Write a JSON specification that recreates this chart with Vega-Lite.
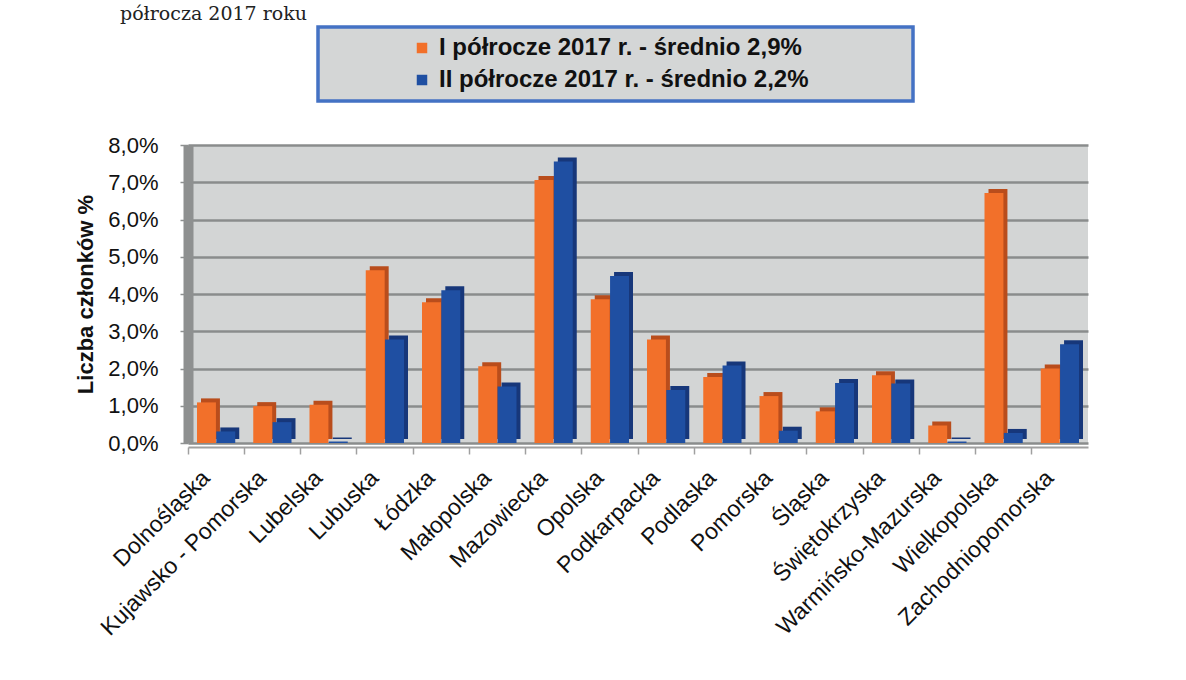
{
  "$schema": "https://vega.github.io/schema/vega-lite/v6.json",
  "width": 900,
  "height": 298,
  "autosize": {"type": "none"},
  "padding": {"left": 188, "top": 145, "right": 98, "bottom": 237},
  "background": "white",
  "title": {
    "text": "półrocza 2017 roku",
    "anchor": "start",
    "frame": "group",
    "font": "DejaVu Serif",
    "fontSize": 19,
    "fontWeight": "normal",
    "color": "#222222",
    "baseline": "bottom",
    "offset": -18,
    "dx": -68
  },
  "config": {
    "font": "Liberation Sans",
    "view": {"fill": "#d3d5d5", "stroke": null},
    "legend": {"strokeWidth": 3.5}
  },
  "data": {
    "values": [
      {"region": "Dolnośląska", "series": "I półrocze 2017 r. - średnio 2,9%", "value": 1.09},
      {"region": "Dolnośląska", "series": "II półrocze 2017 r. - średnio 2,2%", "value": 0.31},
      {"region": "Kujawsko - Pomorska", "series": "I półrocze 2017 r. - średnio 2,9%", "value": 0.99},
      {"region": "Kujawsko - Pomorska", "series": "II półrocze 2017 r. - średnio 2,2%", "value": 0.56},
      {"region": "Lubelska", "series": "I półrocze 2017 r. - średnio 2,9%", "value": 1.03},
      {"region": "Lubelska", "series": "II półrocze 2017 r. - średnio 2,2%", "value": 0.04},
      {"region": "Lubuska", "series": "I półrocze 2017 r. - średnio 2,9%", "value": 4.64},
      {"region": "Lubuska", "series": "II półrocze 2017 r. - średnio 2,2%", "value": 2.78},
      {"region": "Łódzka", "series": "I półrocze 2017 r. - średnio 2,9%", "value": 3.78},
      {"region": "Łódzka", "series": "II półrocze 2017 r. - średnio 2,2%", "value": 4.1},
      {"region": "Małopolska", "series": "I półrocze 2017 r. - średnio 2,9%", "value": 2.06},
      {"region": "Małopolska", "series": "II półrocze 2017 r. - średnio 2,2%", "value": 1.52},
      {"region": "Mazowiecka", "series": "I półrocze 2017 r. - średnio 2,9%", "value": 7.06},
      {"region": "Mazowiecka", "series": "II półrocze 2017 r. - średnio 2,2%", "value": 7.56},
      {"region": "Opolska", "series": "I półrocze 2017 r. - średnio 2,9%", "value": 3.86},
      {"region": "Opolska", "series": "II półrocze 2017 r. - średnio 2,2%", "value": 4.48},
      {"region": "Podkarpacka", "series": "I półrocze 2017 r. - średnio 2,9%", "value": 2.78},
      {"region": "Podkarpacka", "series": "II półrocze 2017 r. - średnio 2,2%", "value": 1.42},
      {"region": "Podlaska", "series": "I półrocze 2017 r. - średnio 2,9%", "value": 1.77},
      {"region": "Podlaska", "series": "II półrocze 2017 r. - średnio 2,2%", "value": 2.08},
      {"region": "Pomorska", "series": "I półrocze 2017 r. - średnio 2,9%", "value": 1.26},
      {"region": "Pomorska", "series": "II półrocze 2017 r. - średnio 2,2%", "value": 0.33},
      {"region": "Śląska", "series": "I półrocze 2017 r. - średnio 2,9%", "value": 0.85},
      {"region": "Śląska", "series": "II półrocze 2017 r. - średnio 2,2%", "value": 1.61},
      {"region": "Świętokrzyska", "series": "I półrocze 2017 r. - średnio 2,9%", "value": 1.82},
      {"region": "Świętokrzyska", "series": "II półrocze 2017 r. - średnio 2,2%", "value": 1.6},
      {"region": "Warmińsko-Mazurska", "series": "I półrocze 2017 r. - średnio 2,9%", "value": 0.47},
      {"region": "Warmińsko-Mazurska", "series": "II półrocze 2017 r. - średnio 2,2%", "value": 0.04},
      {"region": "Wielkopolska", "series": "I półrocze 2017 r. - średnio 2,9%", "value": 6.71},
      {"region": "Wielkopolska", "series": "II półrocze 2017 r. - średnio 2,2%", "value": 0.27},
      {"region": "Zachodniopomorska", "series": "I półrocze 2017 r. - średnio 2,9%", "value": 2.0},
      {"region": "Zachodniopomorska", "series": "II półrocze 2017 r. - średnio 2,2%", "value": 2.65}
    ]
  },
  "encoding": {
    "x": {
      "field": "region",
      "type": "nominal",
      "sort": null,
      "scale": {"paddingInner": 0.32, "paddingOuter": 0.16},
      "axis": {
        "title": null,
        "bandPosition": -0.235,
        "labelAngle": -45,
        "labelAlign": "right",
        "labelBaseline": "middle",
        "labelFontSize": 23,
        "labelColor": "#111111",
        "labelPadding": 20,
        "labelOffset": -10,
        "labelLimit": 400,
        "offset": 4,
        "domainColor": "#a0a0a0",
        "domainWidth": 2,
        "tickColor": "#a0a0a0",
        "tickSize": 7,
        "tickWidth": 1.5,
        "grid": false
      }
    },
    "y": {
      "field": "value",
      "type": "quantitative",
      "scale": {"domain": [0, 8], "nice": false},
      "axis": {
        "title": "Liczba członków %",
        "titleFontSize": 22,
        "titleFontWeight": "bold",
        "titleColor": "#111111",
        "titlePadding": 10,
        "values": [0, 1, 2, 3, 4, 5, 6, 7, 8],
        "labelExpr": "replace(format(datum.value, '.1f'), '.', ',') + '%'",
        "labelFontSize": 22,
        "labelColor": "#111111",
        "labelPadding": 22,
        "grid": true,
        "gridColor": "#8a8c8c",
        "gridWidth": 2.5,
        "domainColor": "#8e9090",
        "domainWidth": 10,
        "tickColor": "#8e9090",
        "tickSize": 8,
        "tickWidth": 1.5
      }
    }
  },
  "layer": [
    {
      "mark": {"type": "bar", "yOffset": -4, "y2Offset": -4},
      "encoding": {
        "xOffset": {"field": "series", "type": "nominal", "scale": {"paddingInner": 0.02, "range": [4, 42.25]}},
        "color": {
          "field": "series",
          "type": "nominal",
          "scale": {
            "domain": ["I półrocze 2017 r. - średnio 2,9%", "II półrocze 2017 r. - średnio 2,2%"],
            "range": ["#b94d1c", "#17377a"]
          },
          "legend": null
        }
      }
    },
    {
      "mark": {"type": "bar"},
      "encoding": {
        "xOffset": {"field": "series", "type": "nominal", "scale": {"paddingInner": 0.02}},
        "color": {
          "field": "series",
          "type": "nominal",
          "scale": {
            "domain": ["I półrocze 2017 r. - średnio 2,9%", "II półrocze 2017 r. - średnio 2,2%"],
            "range": ["#f2702a", "#1f4fa2"]
          },
          "legend": {
            "title": "MMMMM",
            "titleOrient": "right",
            "titleOpacity": 0,
            "titleFontSize": 20,
            "titlePadding": 12,
            "orient": "none",
            "legendX": 130,
            "legendY": -118,
            "direction": "vertical",
            "symbolType": "square",
            "symbolSize": 110,
            "symbolStrokeWidth": 0,
            "symbolOffset": 83,
            "labelFontSize": 24,
            "labelFontWeight": "bold",
            "labelColor": "#111111",
            "labelLimit": 800,
            "labelOffset": 5,
            "rowPadding": 8,
            "padding": 9,
            "fillColor": "#d4d6d6",
            "strokeColor": "#4472c4"
          }
        }
      }
    }
  ],
  "resolve": {"scale": {"color": "independent", "xOffset": "independent"}}
}
